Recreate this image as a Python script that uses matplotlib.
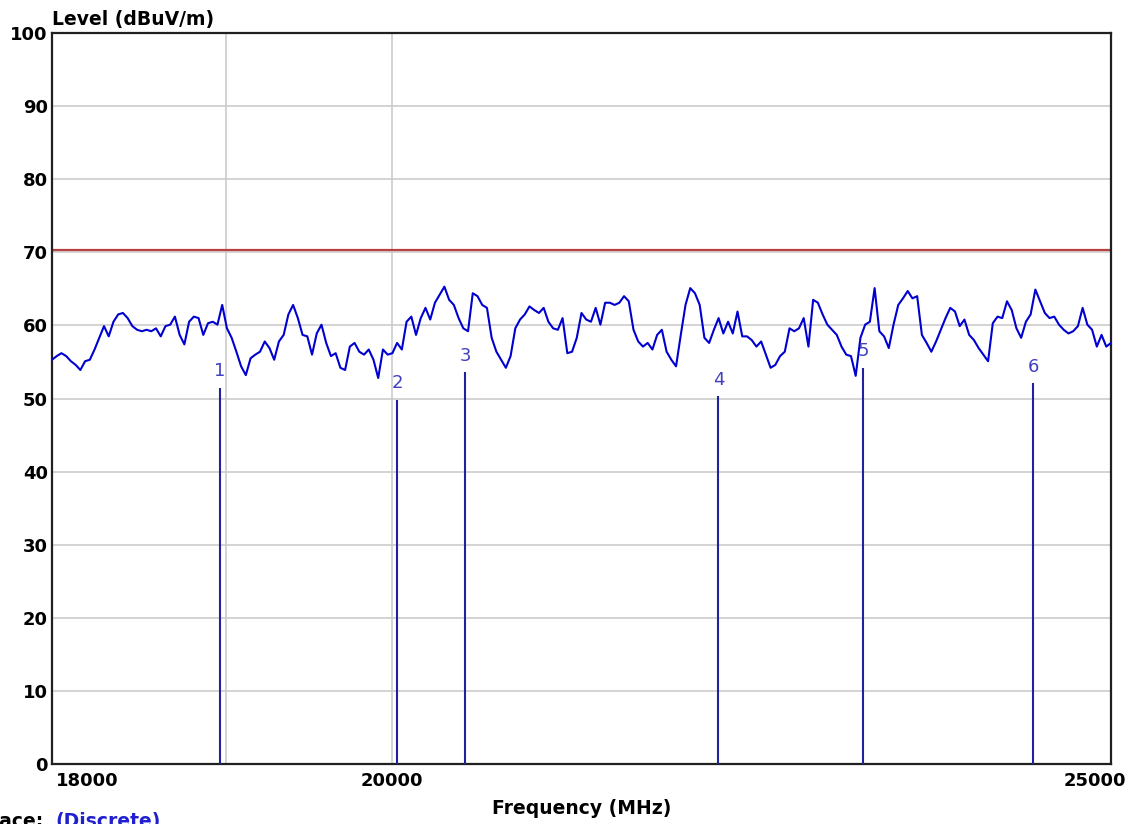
import numpy as np
import matplotlib.pyplot as plt
import matplotlib.transforms as mtransforms

# sweep 18 - 25 GHz, trace level (dBuV/m)
f_start = 18000
f_stop = 25000
level = [55.3, 55.8, 56.2, 55.8, 55.1, 54.6, 53.9, 55.1, 55.3, 56.7, 58.3, 59.9, 58.5, 60.5, 61.5,
         61.7, 61.0, 59.9, 59.4, 59.2, 59.4, 59.2, 59.6, 58.5, 59.9, 60.1, 61.2, 58.7, 57.4, 60.5,
         61.2, 61.0, 58.7, 60.3, 60.5, 60.1, 62.8, 59.6, 58.3, 56.4, 54.4, 53.2, 55.5, 56.0, 56.4,
         57.8, 56.9, 55.3, 57.8, 58.7, 61.5, 62.8, 61.0, 58.7, 58.5, 56.0, 58.9, 60.1, 57.6, 55.8,
         56.2, 54.2, 53.9, 57.1, 57.6, 56.4, 56.0, 56.7, 55.3, 52.8, 56.7, 56.0, 56.2, 57.6, 56.7,
         60.5, 61.2, 58.7, 61.0, 62.4, 60.8, 63.1, 64.2, 65.3, 63.5, 62.8, 61.0, 59.6, 59.2, 64.4,
         64.0, 62.8, 62.4, 58.3, 56.4, 55.3, 54.2, 55.8, 59.6, 60.8, 61.5, 62.6, 62.1, 61.7, 62.4,
         60.5, 59.6, 59.4, 61.0, 56.2, 56.4, 58.3, 61.7, 60.8,
         60.5, 62.4, 60.1, 63.1, 63.1, 62.8, 63.1, 64.0, 63.3, 59.4, 57.8, 57.1, 57.6, 56.7, 58.7,
         59.4, 56.4, 55.3, 54.4, 58.7, 62.8, 65.1, 64.4, 62.8, 58.3, 57.6, 59.4, 61.0, 58.9, 60.5,
         58.9, 61.9, 58.5, 58.5, 58.0, 57.1, 57.8, 56.0, 54.2, 54.6, 55.8, 56.4, 59.6, 59.2, 59.6,
         61.0, 57.1, 63.5, 63.1, 61.5, 60.1, 59.4, 58.7, 57.1, 56.0, 55.8, 53.1, 58.3, 60.1, 60.5,
         65.1, 59.2, 58.5, 56.9, 60.1, 62.8, 63.7, 64.7, 63.7, 64.0, 58.7, 57.6, 56.4, 57.8, 59.4,
         61.0, 62.4, 61.9, 59.9, 60.8, 58.7, 58.0, 56.9, 56.0, 55.1, 60.3, 61.2, 61.0, 63.3, 62.1,
         59.6, 58.3, 60.5, 61.5, 64.9, 63.3, 61.7, 61.0, 61.2, 60.1, 59.4, 58.9, 59.2, 59.9, 62.4,
         60.1, 59.4, 57.1, 58.7, 57.1, 57.6]
freq = np.geomspace(f_start, f_stop, len(level))

# discrete measurement points
mk_num = ['1', '2', '3', '4', '5', '6']
mk_freq = [18964, 20033, 20463, 22133, 23152, 24404]
mk_level = [51.5, 49.8, 53.6, 50.3, 54.2, 52.1]

limit = 70.3

plt.rcParams['font.family'] = 'DejaVu Sans'

fig = plt.figure(figsize=(11.36, 8.24), dpi=100)
ax = fig.add_axes([52/1136, 1-764/824, (1111-52)/1136, (764-33)/824])

ax.plot(freq, level, color='#0000d0', lw=1.5, zorder=3)
ax.axhline(limit, color='#b84040', lw=1.6, zorder=2)
ax.vlines(mk_freq, 0, mk_level, color='#2020a0', lw=1.5, zorder=3)
for n, fx, lv in zip(mk_num, mk_freq, mk_level):
    ax.annotate(n, (fx, lv), xytext=(0, 5.5), textcoords='offset points',
                ha='center', va='bottom', fontsize=13, color='#4040c0')

ax.set_xscale('log')
ax.set_xlim(f_start, f_stop)
ax.set_ylim(0, 100)
ax.set_yticks(range(0, 101, 10))
ax.xaxis.remove_overlapping_locs = False
ax.set_xticks([18000, 20000, 25000], ['18000', '20000', '25000'])
ax.set_xticks([19000, 20000], minor=True)
ax.xaxis.set_minor_formatter(plt.NullFormatter())
ax.tick_params(axis='both', which='both', length=0, labelsize=13)
for t in ax.get_xticklabels() + ax.get_yticklabels():
    t.set_fontweight('bold')
ax.tick_params(axis='x', pad=6)
ax.tick_params(axis='y', pad=3)

xl = ax.get_xticklabels()
xl[0].set_ha('left')
xl[0].set_transform(xl[0].get_transform() + mtransforms.ScaledTranslation(4/100, 0, fig.dpi_scale_trans))
xl[2].set_transform(xl[2].get_transform() + mtransforms.ScaledTranslation(-16/100, 0, fig.dpi_scale_trans))

ax.grid(axis='y', which='major', color='#c8c8c8', lw=1.1)
ax.grid(axis='x', which='minor', color='#c8c8c8', lw=1.1)
ax.grid(axis='x', which='major', visible=False)
ax.set_axisbelow(True)
for s in ax.spines.values():
    s.set_linewidth(1.6)
    s.set_color('#202020')

ax.text(0, 1.005, 'Level (dBuV/m)', transform=ax.transAxes, ha='left', va='bottom',
        fontsize=13.5, fontweight='bold')
ax.set_xlabel('Frequency (MHz)', fontsize=13.5, fontweight='bold', labelpad=6)

fig.text(-20/1136, 12/824, 'Trace:', ha='left', va='top', fontsize=13.5, fontweight='bold')
fig.text(55/1136, 12/824, '(Discrete)', ha='left', va='top', fontsize=13.5, fontweight='bold', color='#2020d0')

fig.savefig('out.png', dpi=100)
